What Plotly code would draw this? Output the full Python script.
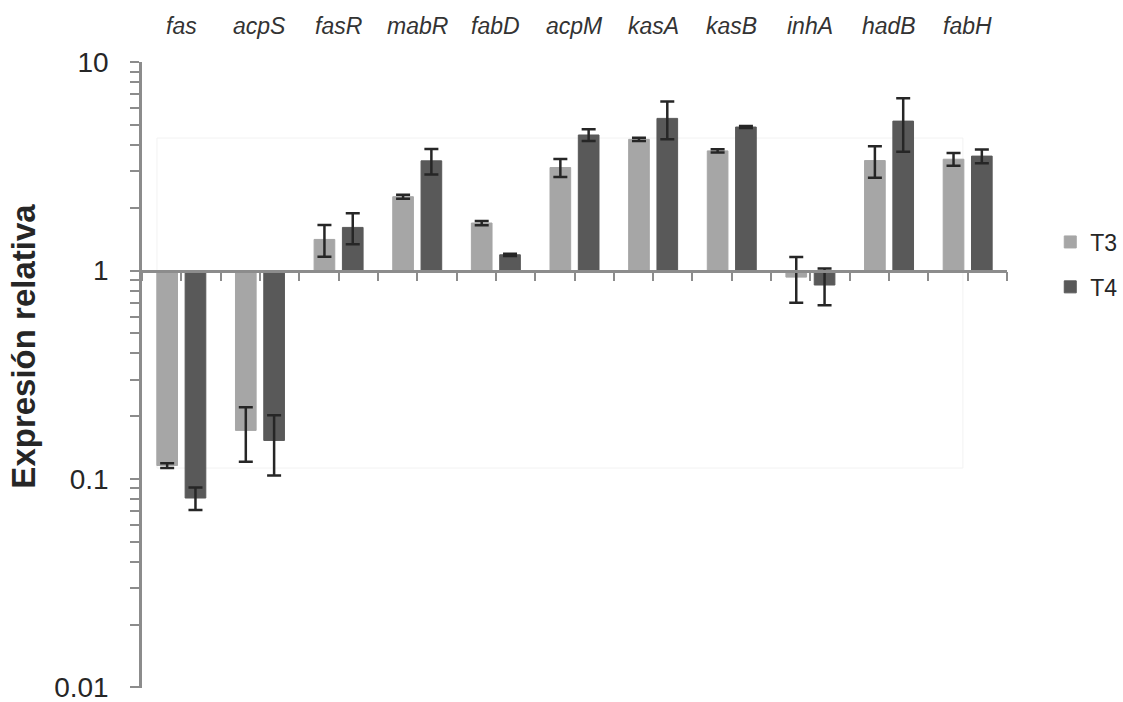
import plotly.graph_objects as go

# Genes (in plotting order) and relative expression for the two time points
genes = ["fas", "acpS", "fasR", "mabR", "fabD", "acpM", "kasA", "kasB", "inhA", "hadB", "fabH"]

t3_values = [0.116, 0.171, 1.41, 2.26, 1.69, 3.12, 4.26, 3.75, 0.93, 3.37, 3.42]
t3_errors = [0.003, 0.050, 0.245, 0.05, 0.04, 0.31, 0.08, 0.07, 0.23, 0.58, 0.24]

t4_values = [0.081, 0.153, 1.61, 3.36, 1.19, 4.47, 5.37, 4.88, 0.852, 5.21, 3.54]
t4_errors = [0.010, 0.049, 0.275, 0.47, 0.015, 0.29, 1.10, 0.05, 0.17, 1.50, 0.27]

y_tick_values = [0.01, 0.1, 1, 10]
y_tick_labels = ["0.01", "0.1", "1", "10"]

series_names = ["T3", "T4"]
series_colors = ["#a6a6a6", "#595959"]

FONT = "Arial, 'Liberation Sans', sans-serif"
AXIS_GREY = "#8c8c8c"
x_pos = list(range(len(genes)))

# log10 span of the value axis; the plot area is sized so that one decade ~ 208.5 px
Y_LOG_MIN, Y_LOG_MAX = -2.003, 1.0005
PLOT_TOP = 62
PLOT_H = round(208.5 * (Y_LOG_MAX - Y_LOG_MIN))
FIG_H = 702


def py(px):
    """paper y-fraction for a pixel row measured from the top of the figure"""
    return (PLOT_TOP + PLOT_H - px) / PLOT_H


fig = go.Figure()
for name, vals, errs, color in zip(series_names, [t3_values, t4_values],
                                   [t3_errors, t4_errors], series_colors):
    # bars grow up or down from the reference level 1 on the log axis
    fig.add_trace(go.Bar(
        name=name,
        x=x_pos,
        base=[1] * len(vals),
        y=[v - 1 for v in vals],
        customdata=vals,
        hovertemplate="%{customdata}<extra>" + name + "</extra>",
        marker=dict(color=color, line=dict(color=color, width=1)),
        error_y=dict(type="data", array=errs, symmetric=True,
                     color="#262626", thickness=2.5, width=7),
        legendgroup=name,
    ))

# paper-fraction position of the value 1 on the log axis
one_frac = (0 - Y_LOG_MIN) / (Y_LOG_MAX - Y_LOG_MIN)

# italic gene names along the top
annotations = [
    dict(x=xp, y=1.0, xref="x", yref="paper", text=g, showarrow=False,
         yanchor="bottom", yshift=21,
         font=dict(family=FONT, size=23, color="#333333", style="italic"))
    for xp, g in zip(x_pos, genes)
]
annotations.append(dict(
    x=-0.138, y=py(346), xref="paper", yref="paper", text="<b>Expresión relativa</b>",
    textangle=-90, showarrow=False, xanchor="center", yanchor="middle",
    font=dict(family=FONT, size=33, color="#262626"),
))

fig.update_layout(
    width=1123, height=FIG_H,
    margin=dict(l=142, r=116, t=PLOT_TOP, b=FIG_H - PLOT_TOP - PLOT_H, autoexpand=False),
    paper_bgcolor="white", plot_bgcolor="white",
    barmode="group", bargap=0.28, bargroupgap=0.27,
    font=dict(family=FONT, color="#262626"),
    showlegend=True,
    legend=dict(x=1.05, y=py(264.5), xanchor="left", yanchor="middle",
                font=dict(family=FONT, size=23, color="#262626"),
                tracegroupgap=12, traceorder="grouped",
                bgcolor="rgba(0,0,0,0)"),
    annotations=annotations,
    shapes=[dict(type="rect", xref="paper", yref="paper",
                 x0=0.0173, x1=0.949, y0=py(468), y1=py(138),
                 line=dict(color="#f2f2f2", width=1), layer="below")],
    xaxis=dict(
        type="linear", range=[-0.5, len(genes) - 0.5],
        anchor="free", position=one_frac,
        showline=True, linecolor=AXIS_GREY, linewidth=2.5,
        ticks="outside", ticklen=9, tickwidth=2, tickcolor=AXIS_GREY,
        tickmode="linear", tick0=-0.5, dtick=0.5,
        showticklabels=False, showgrid=False, zeroline=False,
    ),
    yaxis=dict(
        type="log", range=[Y_LOG_MIN, Y_LOG_MAX],
        showline=True, linecolor=AXIS_GREY, linewidth=2.5,
        ticks="outside", ticklen=9, tickwidth=2, tickcolor=AXIS_GREY,
        tickmode="array", tickvals=y_tick_values, ticktext=y_tick_labels,
        tickfont=dict(family=FONT, size=28, color="#262626"),
        ticklabelstandoff=16, ticklabeloverflow="allow",
        minor=dict(ticks="outside", ticklen=9, tickwidth=2, tickcolor=AXIS_GREY,
                   tickmode="linear", dtick="D1", showgrid=False),
        showgrid=False, zeroline=False,
    ),
)

fig.write_html("out.html")
